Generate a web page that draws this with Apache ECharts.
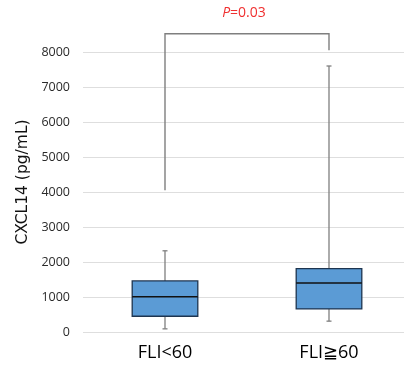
<!DOCTYPE html>
<html>
<head>
<meta charset="utf-8">
<script src="https://cdn.jsdelivr.net/npm/echarts@6/dist/echarts.min.js"></script>
<style>
  html, body { margin: 0; padding: 0; background: #fff; }
  #main { width: 404px; height: 373px; }
</style>
</head>
<body>
<div id="main"></div>
<script>
// groups on the x axis
var categories = ['FLI<60', 'FLI\u226760'];
// box stats: min, Q1, median, Q3, max
var whiskerLow = [90, 310];
var quartile1 = [450, 660];
var medians = [1010, 1400];
var quartile3 = [1460, 1810];
var whiskerHigh = [2320, 7600];
// significance bracket: left leg end, right leg end, top
var bracketLegs = [4050, 8050];
var bracketTop = 8520;
var pLabel = '0.03';
var yTicks = [0, 1000, 2000, 3000, 4000, 5000, 6000, 7000, 8000];

var chart = echarts.init(document.getElementById('main'));

var boxData = categories.map(function (c, i) {
    return [i, whiskerLow[i], quartile1[i], medians[i], quartile3[i], whiskerHigh[i]];
});

function renderBox(params, api) {
    var x = api.value(0);
    var pLow = api.coord([x, api.value(1)]);
    var pQ1 = api.coord([x, api.value(2)]);
    var pMed = api.coord([x, api.value(3)]);
    var pQ3 = api.coord([x, api.value(4)]);
    var pHigh = api.coord([x, api.value(5)]);
    var half = api.size([1, 0])[0] * 0.2;
    var cap = 2.5;
    var grey = '#7f7f7f';
    return {
        type: 'group',
        children: [
            { type: 'line', shape: { x1: pLow[0], y1: pLow[1], x2: pQ1[0], y2: pQ1[1] }, style: { stroke: grey, lineWidth: 1.3 } },
            { type: 'line', shape: { x1: pQ3[0], y1: pQ3[1], x2: pHigh[0], y2: pHigh[1] }, style: { stroke: grey, lineWidth: 1.3 } },
            { type: 'line', shape: { x1: pLow[0] - cap, y1: pLow[1], x2: pLow[0] + cap, y2: pLow[1] }, style: { stroke: grey, lineWidth: 1.3 } },
            { type: 'line', shape: { x1: pHigh[0] - cap, y1: pHigh[1], x2: pHigh[0] + cap, y2: pHigh[1] }, style: { stroke: grey, lineWidth: 1.3 } },
            { type: 'rect', shape: { x: pQ3[0] - half, y: pQ3[1], width: half * 2, height: pQ1[1] - pQ3[1] }, style: { fill: '#5b9bd5', stroke: '#1e3550', lineWidth: 1.3 } },
            { type: 'line', shape: { x1: pMed[0] - half, y1: pMed[1], x2: pMed[0] + half, y2: pMed[1] }, style: { stroke: '#111', lineWidth: 1.5 } }
        ]
    };
}

function renderBracket(params, api) {
    var a = api.coord([0, bracketLegs[0]]);
    var b = api.coord([1, bracketLegs[1]]);
    var ta = api.coord([0, bracketTop]);
    var tb = api.coord([1, bracketTop]);
    return {
        type: 'group',
        children: [
            { type: 'polyline', shape: { points: [a, ta, tb, b] }, style: { stroke: '#7f7f7f', lineWidth: 1.4, fill: null } },
            {
                type: 'text',
                x: (ta[0] + tb[0]) / 2 - 3,
                y: ta[1] - 21,
                style: {
                    text: '{i|P}=' + pLabel,
                    align: 'center',
                    verticalAlign: 'middle',
                    fill: '#f03030',
                    fontSize: 14,
                    fontFamily: 'Open Sans',
                    rich: { i: { fontStyle: 'italic', fontSize: 14, fill: '#f03030', fontFamily: 'Open Sans' } }
                }
            }
        ]
    };
}

var option = {
    animation: false,
    grid: { left: 83, top: 52, bottom: 41, width: 328, outerBoundsMode: 'none' },
    xAxis: {
        type: 'category',
        data: categories,
        axisLine: { show: false },
        axisTick: { show: false },
        axisLabel: { fontSize: 18, color: '#000', margin: 12, fontFamily: 'Open Sans' }
    },
    yAxis: {
        type: 'value',
        min: yTicks[0],
        max: yTicks[yTicks.length - 1],
        interval: 1000,
        name: 'CXCL14 (pg/mL)',
        nameLocation: 'middle',
        nameGap: 52,
        nameTextStyle: { fontSize: 15.5, color: '#111', fontFamily: 'DejaVu Sans', padding: [0, 0, 0, 20] },
        axisLine: { show: false },
        axisTick: { show: false },
        axisLabel: {
            fontSize: 12.5, color: '#2a2a2a', margin: 13, fontFamily: 'Open Sans',
            formatter: function (v) { return String(v); }
        },
        splitLine: { lineStyle: { color: '#dedede', width: 1 } }
    },
    series: [
        {
            type: 'custom',
            renderItem: renderBracket,
            clip: false,
            data: [[0, bracketTop]],
            encode: { x: 0, y: 1 },
            silent: true
        },
        {
            type: 'custom',
            renderItem: renderBox,
            clip: false,
            data: boxData,
            encode: { x: 0, y: [1, 2, 3, 4, 5] }
        }
    ]
};

chart.setOption(option);
</script>
</body>
</html>
